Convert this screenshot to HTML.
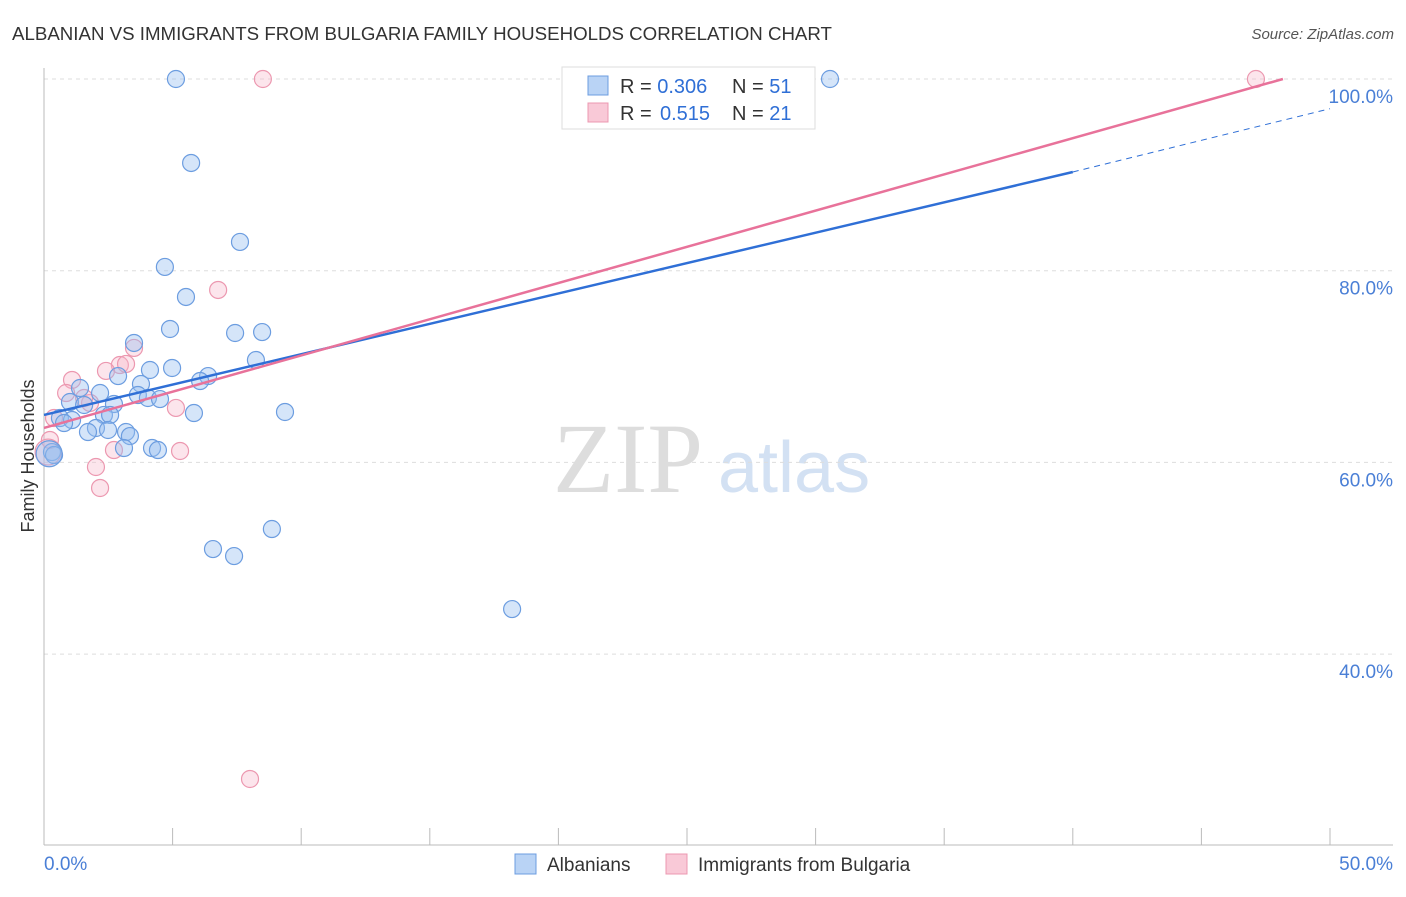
<!DOCTYPE html>
<html><head><meta charset="utf-8"><style>
body{margin:0;background:#fff;font-family:"Liberation Sans",sans-serif;}
svg text{font-family:"Liberation Sans",sans-serif;}
</style></head><body>
<svg id="chart" width="1406" height="892">
<text x="12" y="40" font-size="18.7" fill="#333">ALBANIAN VS IMMIGRANTS FROM BULGARIA FAMILY HOUSEHOLDS CORRELATION CHART</text>
<text x="1394" y="39" font-size="15" fill="#555" font-style="italic" text-anchor="end">Source: ZipAtlas.com</text>
<text x="34" y="456" font-size="18" fill="#333" text-anchor="middle" transform="rotate(-90 34 456)">Family Households</text>
<text x="553" y="492" font-size="100" fill="#ddd" style="font-family:'Liberation Serif',serif">ZIP</text>
<text x="718" y="492" font-size="72" fill="#d3e1f3">atlas</text>
<g id="grid"></g><g id="axes"></g><g id="pts"></g><g id="lines"></g>
<g>
<rect x="562" y="67" width="253" height="62" fill="#fff" stroke="#ddd"/>
<rect x="588" y="76" width="20" height="19" fill="#b9d3f5" stroke="#6c9de0"/>
<rect x="588" y="103" width="20" height="19" fill="#f9c9d7" stroke="#ec98b0"/>
<text x="620" y="93" font-size="20" fill="#333">R = <tspan fill="#2f6fd6">0.306</tspan><tspan x="732">N = </tspan><tspan fill="#2f6fd6">51</tspan></text>
<text x="620" y="120" font-size="20" fill="#333">R = <tspan fill="#2f6fd6" x="660">0.515</tspan><tspan x="732">N = </tspan><tspan fill="#2f6fd6">21</tspan></text>
</g>
<g>
<rect x="515" y="854" width="21" height="20" fill="#b9d3f5" stroke="#6c9de0"/>
<text x="547" y="871" font-size="19" fill="#333">Albanians</text>
<rect x="666" y="854" width="21" height="20" fill="#f9c9d7" stroke="#ec98b0"/>
<text x="698" y="871" font-size="19" fill="#333">Immigrants from Bulgaria</text>
</g>
</svg>
<script>
const blueX=[5.13,30.56,5.72,7.62,4.70,5.52,4.90,7.43,8.48,3.50,8.24,4.98,4.12,2.88,6.38,6.07,3.77,1.40,2.18,3.65,4.04,4.51,2.72,1.01,1.56,5.83,9.37,2.33,2.57,0.62,1.09,0.78,2.02,1.71,2.49,3.19,3.34,3.11,4.20,4.43,0.31,0.39,6.57,7.39,8.86,18.2,0.2];
const blueY=[100,100,91.24,83.0,80.39,77.26,73.92,73.5,73.6,72.46,70.68,69.85,69.64,69.01,69.01,68.49,68.18,67.76,67.24,67.03,66.72,66.61,66.09,66.3,65.99,65.15,65.26,64.95,64.95,64.63,64.42,64.11,63.59,63.17,63.38,63.17,62.75,61.5,61.5,61.29,61.08,60.77,50.96,50.23,53.05,44.7,60.9];
const blueR=[8.5,8.5,8.5,8.5,8.5,8.5,8.5,8.5,8.5,8.5,8.5,8.5,8.5,8.5,8.5,8.5,8.5,8.5,8.5,8.5,8.5,8.5,8.5,8.5,8.5,8.5,8.5,8.5,8.5,8.5,8.5,8.5,8.5,8.5,8.5,8.5,8.5,8.5,8.5,8.5,8.5,8.5,8.5,8.5,8.5,8.5,13];
const pinkX=[8.51,47.12,6.77,3.50,2.95,3.19,2.41,1.09,0.86,1.79,1.56,5.13,0.39,0.23,2.72,5.29,2.02,2.18,8.01,0.16];
const pinkY=[100,100,77.99,71.94,70.16,70.27,69.54,68.6,67.24,66.2,66.72,65.68,64.63,62.34,61.29,61.19,59.52,57.33,26.97,61.08];
const pinkR=[8.5,8.5,8.5,8.5,8.5,8.5,8.5,8.5,8.5,8.5,8.5,8.5,8.5,8.5,8.5,8.5,8.5,8.5,8.5,13];
const blueTrend=[64.95,90.3,96.9];
const pinkTrend=[63.6,100];
const yTicks=[100,80,60,40];
const ns="http://www.w3.org/2000/svg";
const X=v=>44+v*25.72, Y=v=>79+(100-v)*9.585;
function mk(p,t,a){const e=document.createElementNS(ns,t);for(const k in a)e.setAttribute(k,a[k]);document.getElementById(p).appendChild(e);return e;}
yTicks.forEach(t=>{
 const l=mk('grid','line',{x1:44,x2:1393,y1:Y(t),y2:Y(t),stroke:'#ddd','stroke-dasharray':'4,4'});
 
 
 const tx=mk('grid','text',{x:1393,y:Y(t)+24,'font-size':19,fill:'#4a7fd6','text-anchor':'end'});
 tx.textContent=t.toFixed(1)+'%';
 
 
});
mk('axes','line',{x1:44,x2:44,y1:68,y2:845,stroke:'#bbb'});
mk('axes','line',{x1:44,x2:1393,y1:845,y2:845,stroke:'#bbb'});
for(let i=0;i<=10;i++){const t=mk('axes','line',{x1:X(i*5),x2:X(i*5),y1:828,y2:845,stroke:'#bbb'});
 
 }
let a=mk('axes','text',{x:44,y:870,'font-size':19,fill:'#4a7fd6'});a.textContent='0.0%';
let b=mk('axes','text',{x:1393,y:870,'font-size':19,fill:'#4a7fd6','text-anchor':'end'});b.textContent='50.0%';
pinkX.forEach((x,i)=>{const c=mk('pts','circle',{cx:X(x),cy:Y(pinkY[i]),r:pinkR[i],fill:'rgba(245,180,200,0.35)',stroke:'#ec98b0','stroke-width':1.2});
 
 });
blueX.forEach((x,i)=>{const c=mk('pts','circle',{cx:X(x),cy:Y(blueY[i]),r:blueR[i],fill:'rgba(150,190,240,0.4)',stroke:'#6c9de0','stroke-width':1.2});
 
 });
let bl=mk('lines','line',{x1:X(0),y1:Y(blueTrend[0]),x2:X(40),y2:Y(blueTrend[1]),stroke:'#2f6fd6','stroke-width':2.5});


let bd=mk('lines','line',{x1:X(40),y1:Y(blueTrend[1]),x2:X(50),y2:Y(blueTrend[2]),stroke:'#2f6fd6','stroke-width':1,'stroke-dasharray':'6,5'});


let pl=mk('lines','line',{x1:X(0),y1:Y(pinkTrend[0]),x2:X(48.17),y2:Y(pinkTrend[1]),stroke:'#e8729a','stroke-width':2.5});


</script>
</body></html>
